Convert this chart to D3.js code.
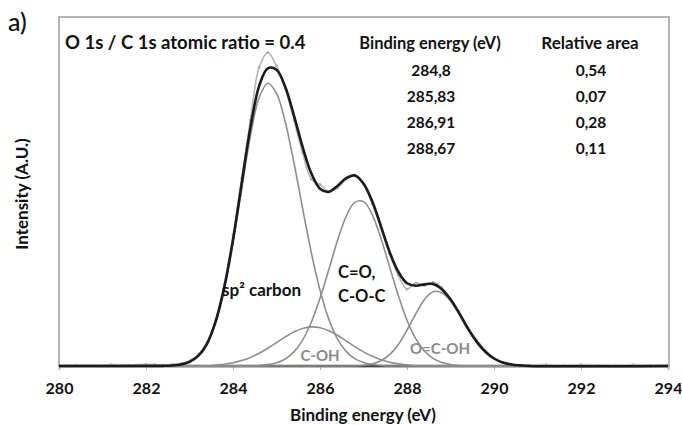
<!DOCTYPE html>
<html>
<head>
<meta charset="utf-8">
<script src="https://cdn.jsdelivr.net/npm/d3@7"></script>
<style>
  html, body { margin: 0; padding: 0; background: #fff; }
  svg { display: block; }
  text { font-family: Lato, "Open Sans", sans-serif; }
</style>
</head>
<body>
<svg id="chart" width="682" height="425"></svg>
<script>
// ---- data ----
const xTicks = [280, 282, 284, 286, 288, 290, 292, 294];

// Common energy grid for the fitted curves (eV)
const energy = [282.4, 282.6, 282.8, 283.0, 283.2, 283.4, 283.6, 283.8, 284.0, 284.2,
                284.4, 284.6, 284.8, 285.0, 285.2, 285.4, 285.6, 285.8, 286.0, 286.2,
                286.4, 286.6, 286.8, 287.0, 287.2, 287.4, 287.6, 287.8, 288.0, 288.2,
                288.4, 288.6, 288.8, 289.0, 289.2, 289.4, 289.6, 289.8, 290.0, 290.2,
                290.4, 290.6, 290.8];

// Fitted components (intensity, a.u.)
const sp2Carbon = [0.05, 0.15, 0.45, 1.2, 2.9, 6.3, 12.4, 22.1, 35.2, 50.7,
                   65.8, 76.9, 81.0, 78.1, 70.0, 58.3, 45.2, 32.5, 21.7, 13.5,
                   7.8, 4.2, 2.1, 0.97, 0.42, 0.17, 0, 0, 0, 0,
                   0, 0, 0, 0, 0, 0, 0, 0, 0, 0, 0, 0, 0];
const cOH = [0, 0, 0, 0, 0, 0, 0.28, 0.52, 0.93, 1.55,
             2.45, 3.64, 5.09, 6.71, 8.34, 9.76, 10.77, 11.2, 10.96, 10.12,
             8.8, 7.21, 5.56, 4.05, 2.77, 1.79, 1.09, 0.62, 0.34, 0,
             0, 0, 0, 0, 0, 0, 0, 0, 0, 0, 0, 0, 0];
const cO_cOc = [0, 0, 0, 0, 0, 0, 0, 0, 0, 0,
                0, 0.15, 0.39, 0.92, 2.01, 4.04, 7.42, 12.54, 19.4, 27.5,
                35.9, 42.8, 46.9, 47.1, 43.4, 36.6, 28.4, 20.2, 13.1, 7.86,
                4.3, 2.17, 1.0, 0.42, 0.16, 0, 0, 0, 0, 0, 0, 0, 0];
const oCOH = [0, 0, 0, 0, 0, 0, 0, 0, 0, 0,
              0, 0, 0, 0, 0, 0, 0, 0, 0, 0,
              0, 0, 0, 0.21, 0.6, 1.49, 3.24, 6.15, 10.24, 14.9,
              19.06, 21.3, 21.0, 18.66, 14.9, 10.75, 6.98, 4.08, 2.15, 1.02,
              0.44, 0.17, 0];

// Fitted envelope (on energy grid)
const envelope = [0.05, 0.15, 0.45, 1.2, 2.9, 6.3, 12.7, 22.6, 36.1, 52.3,
                  68.3, 80.2, 85.3, 84.9, 80.0, 71.8, 62.8, 55.2, 50.8, 49.9,
                  51.6, 53.8, 54.6, 52.3, 47.2, 40.1, 32.7, 27.0, 23.7, 23.0,
                  23.4, 23.5, 22.0, 19.1, 15.1, 10.75, 6.98, 4.08, 2.15, 1.02,
                  0.44, 0.17, 0];

// Measured spectrum
const dataEnergy = [280.0, 280.4, 280.8, 281.2, 281.6, 282.0, 282.2,
                    282.4, 282.6, 282.8, 283.0, 283.2, 283.4, 283.6, 283.8, 284.0, 284.2,
                    284.4, 284.6, 284.8, 285.0, 285.2, 285.4, 285.6, 285.8, 286.0, 286.2,
                    286.4, 286.6, 286.8, 287.0, 287.2, 287.4, 287.6, 287.8, 288.0, 288.2,
                    288.4, 288.6, 288.8, 289.0, 289.2, 289.4, 289.6, 289.8, 290.0, 290.2,
                    290.4, 290.8, 291.2, 291.6, 292.0, 292.4, 292.8, 293.2, 293.6, 294.0];
const dataIntensity = [0.2, 0.3, 0.2, 0.4, 0.3, 0.5, 0.4,
                       0.3, 0.5, 0.7, 1.5, 3.3, 6.8, 13.2, 23.5, 37.5, 53.8,
                       70.5, 85.5, 89.8, 86.0, 79.5, 70.5, 61.0, 53.5, 52.0, 50.0,
                       51.0, 53.5, 54.8, 52.0, 46.5, 39.5, 32.0, 26.0, 22.0, 23.8,
                       23.0, 24.0, 22.5, 19.0, 15.5, 11.0, 7.5, 4.5, 2.3, 1.1,
                       0.5, 0.3, 0.4, 0.2, 0.4, 0.3, 0.2, 0.4, 0.3, 0.2];

// Table of peak positions
const tablePositions = ["284,8", "285,83", "286,91", "288,67"];
const tableAreas = ["0,54", "0,07", "0,28", "0,11"];

// ---- drawing ----
const svg = d3.select("#chart");
const x = d3.scaleLinear().domain([280, 294]).range([59, 668]);
const y = d3.scaleLinear().domain([0, 100]).range([366, 17]);

// frame
svg.append("rect")
  .attr("x", 59).attr("y", 17).attr("width", 610).attr("height", 349)
  .attr("fill", "none").attr("stroke", "#b4b4b4").attr("stroke-width", 2);

// x axis
const xAxis = d3.axisBottom(x).tickValues(xTicks).tickSize(4).tickPadding(13)
  .tickFormat(d3.format("d"));
const gx = svg.append("g").attr("transform", "translate(0,366)").call(xAxis);
gx.select(".domain").attr("stroke", "#8c8c8c").attr("stroke-width", 1.5);
gx.selectAll(".tick line").attr("stroke", "#b0b0b0");
gx.selectAll(".tick text").attr("fill", "#111").attr("font-size", 16)
  .attr("font-weight", 700).style("font-family", "Lato, sans-serif");

const line = d3.line().curve(d3.curveCatmullRom.alpha(0.5));

// baseline (thick dark along the bottom)
svg.append("path")
  .attr("d", line([[x(280), y(0)], [x(294), y(0)]]))
  .attr("stroke", "#444").attr("stroke-width", 2.5).attr("fill", "none");

// components
[sp2Carbon, cOH, cO_cOc, oCOH].forEach(comp => {
  const pts = energy.map((e, i) => [x(e), y(comp[i])]);
  svg.append("path").attr("d", line(pts))
    .attr("fill", "none").attr("stroke", "#8e8e8e").attr("stroke-width", 1.6);
});

// measured data
const dataPts = dataEnergy.map((e, i) => [x(e), y(dataIntensity[i])]);
svg.append("path").attr("d", line(dataPts))
  .attr("fill", "none").attr("stroke", "#b8b8b8").attr("stroke-width", 1.6);
svg.selectAll("circle.pt").data(dataPts).enter().append("circle")
  .attr("class", "pt").attr("cx", d => d[0]).attr("cy", d => d[1]).attr("r", 1.3)
  .attr("fill", "#aaa");

// envelope
const envPts = [[x(280), y(0)]].concat(energy.map((e, i) => [x(e), y(envelope[i])]), [[x(294), y(0)]]);
svg.append("path").attr("d", line(envPts))
  .attr("fill", "none").attr("stroke", "#1c1c1c").attr("stroke-width", 2.6);

// texts
svg.append("text").attr("x", 8).attr("y", 31).text("a)")
  .attr("font-size", 25).attr("font-weight", 500).attr("fill", "#111");
svg.append("text").attr("x", 65).attr("y", 49).text("O 1s / C 1s atomic ratio = 0.4")
  .attr("font-size", 18.5).attr("font-weight", 700).attr("fill", "#111");
svg.append("text").attr("x", 430).attr("y", 49).attr("text-anchor", "middle")
  .text("Binding energy (eV)").attr("font-size", 16.5).attr("font-weight", 700).attr("fill", "#111");
svg.append("text").attr("x", 590).attr("y", 49).attr("text-anchor", "middle")
  .text("Relative area").attr("font-size", 17).attr("font-weight", 700).attr("fill", "#111");
tablePositions.forEach((t, i) => {
  svg.append("text").attr("x", 431).attr("y", 76 + i * 26).attr("text-anchor", "middle")
    .text(t).attr("font-size", 15.5).attr("font-weight", 700).attr("fill", "#111");
  svg.append("text").attr("x", 591).attr("y", 76 + i * 26).attr("text-anchor", "middle")
    .text(tableAreas[i]).attr("font-size", 15.5).attr("font-weight", 700).attr("fill", "#111");
});

// axis labels
svg.append("text").attr("transform", "translate(28,194) rotate(-90)")
  .attr("text-anchor", "middle").text("Intensity (A.U.)")
  .attr("font-size", 17).attr("font-weight", 700).attr("fill", "#111");
svg.append("text").attr("x", 363).attr("y", 421).attr("text-anchor", "middle")
  .text("Binding energy (eV)").attr("font-size", 17).attr("font-weight", 700).attr("fill", "#111");

// peak annotations
svg.append("text").attr("x", 222).attr("y", 296).text("sp² carbon")
  .attr("font-size", 17).attr("font-weight", 700).attr("fill", "#111");
svg.append("text").attr("x", 338).attr("y", 278).text("C=O,")
  .attr("font-size", 16.5).attr("font-weight", 700).attr("fill", "#111");
svg.append("text").attr("x", 338).attr("y", 302).text("C-O-C")
  .attr("font-size", 16.5).attr("font-weight", 700).attr("fill", "#111");
svg.append("text").attr("x", 320).attr("y", 361).attr("text-anchor", "middle").text("C-OH")
  .attr("font-size", 15).attr("font-weight", 700).attr("fill", "#8a8a8a");
svg.append("text").attr("x", 440).attr("y", 354).attr("text-anchor", "middle").text("O=C-OH")
  .attr("font-size", 15).attr("font-weight", 700).attr("fill", "#8a8a8a");
</script>
</body>
</html>
